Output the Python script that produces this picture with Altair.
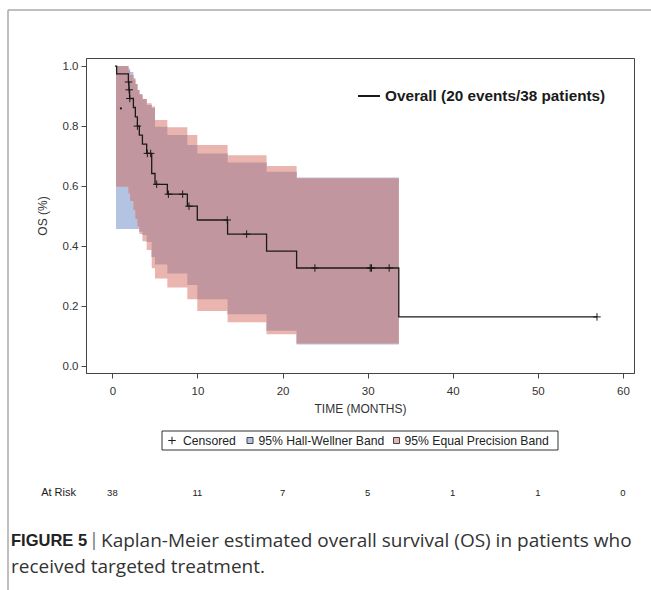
import altair as alt
import pandas as pd

# ---- Kaplan-Meier step curve (time in months, survival) ----
km_t = [0.3, 0.5, 1.88, 1.95, 2.02, 2.47, 2.70, 2.94, 3.17, 3.53, 4.03, 4.62, 5.01,
        6.46, 8.81, 9.98, 13.54, 18.12, 21.65, 33.66, 56.95]
km_s = [1.0, 0.974, 0.947, 0.921, 0.892, 0.862, 0.831, 0.80, 0.77, 0.74, 0.709, 0.642, 0.606,
        0.573, 0.533, 0.487, 0.44, 0.383, 0.327, 0.164, 0.164]

# ---- censored observations ----
cens_t = [1.90, 1.97, 2.05, 2.94, 4.11, 4.50, 5.21, 6.58, 8.26, 9.00, 13.50, 15.78,
          23.80, 30.30, 30.45, 32.53, 56.95]
cens_s = [0.947, 0.921, 0.892, 0.80, 0.709, 0.709, 0.606, 0.573, 0.573, 0.533, 0.487, 0.44,
          0.327, 0.327, 0.327, 0.327, 0.164]

# ---- confidence bands ----
band_t = [0.43, 1.88, 2.08, 2.47, 2.70, 2.94, 3.17, 3.53, 4.03, 4.62, 5.01, 6.46, 8.81,
          9.98, 13.54, 18.12, 21.65, 33.66]
hw_lo = [0.457, 0.457, 0.457, 0.457, 0.457, 0.457, 0.448, 0.437, 0.414, 0.364, 0.339, 0.309,
         0.27, 0.223, 0.173, 0.118, 0.072, 0.072]
hw_hi = [1.0, 0.992, 0.98, 0.96, 0.94, 0.92, 0.905, 0.89, 0.87, 0.86, 0.798, 0.77, 0.737,
         0.709, 0.679, 0.648, 0.629, 0.629]
ep_lo = [0.598, 0.575, 0.55, 0.52, 0.49, 0.465, 0.44, 0.416, 0.387, 0.326, 0.292, 0.262,
         0.223, 0.184, 0.146, 0.106, 0.0756, 0.0756]
ep_hi = [1.0, 0.985, 0.97, 0.955, 0.94, 0.92, 0.905, 0.89, 0.876, 0.865, 0.82, 0.796, 0.77,
         0.737, 0.703, 0.667, 0.626, 0.626]

stray_t = [1.0]
stray_s = [0.859]

# ---- number at risk ----
risk_t = [0, 10, 20, 30, 40, 50, 60]
risk_n = ["38", "11", "7", "5", "1", "1", "0"]

x_ticks = [0, 10, 20, 30, 40, 50, 60]
y_ticks = [0.0, 0.2, 0.4, 0.6, 0.8, 1.0]

W, H = 548, 315
L, T = 86, 58
FONT = "Liberation Sans"
CAP_FONT = "Open Sans"
BLUE = "#B3C3E2"
RED = "#E9B5AE"
OVER = "#C2969F"
INK = "#1a1a1a"

xscale = alt.Scale(domain=[-3.1, 61.3], nice=False, zero=False)
yscale = alt.Scale(domain=[-0.023, 1.027], nice=False, zero=False)
xaxis = alt.Axis(values=x_ticks, title="TIME (MONTHS)", grid=False, tickSize=5,
                 labelPadding=7, labelFontSize=11.5, titleFontSize=12, titleFontWeight="normal",
                 titlePadding=7, labelFont=FONT, titleFont=FONT, domainColor="#444",
                 tickColor="#444", labelColor="#333", titleColor="#333")
yaxis = alt.Axis(values=y_ticks, format=".1f", title="OS (%)", grid=False, tickSize=5,
                 labelPadding=3, labelFontSize=11.5, titleFontSize=12, titleFontWeight="normal",
                 titlePadding=13, labelFont=FONT, titleFont=FONT, domainColor="#444",
                 tickColor="#444", labelColor="#333", titleColor="#333")

X = alt.X("t:Q", scale=xscale, axis=xaxis)

band_df = pd.DataFrame({"t": band_t, "hw_lo": hw_lo, "hw_hi": hw_hi, "ep_lo": ep_lo, "ep_hi": ep_hi})
band_df["ov_lo"] = band_df[["hw_lo", "ep_lo"]].max(axis=1)
band_df["ov_hi"] = band_df[["hw_hi", "ep_hi"]].min(axis=1)


def band(lo, hi, color):
    return alt.Chart(band_df).mark_area(interpolate="step-after", color=color, opacity=1).encode(
        x=X, y=alt.Y(f"{lo}:Q", scale=yscale, axis=yaxis), y2=f"{hi}:Q")


km_df = pd.DataFrame({"t": km_t, "s": km_s})
cens_df = pd.DataFrame({"t": cens_t, "s": cens_s})
stray_df = pd.DataFrame({"t": stray_t, "s": stray_s})
risk_df = pd.DataFrame({"t": risk_t, "n": risk_n})

PLUS = "M-1,0L1,0M0,-1L0,1"

km_line = alt.Chart(km_df).mark_line(interpolate="step-after", color=INK, strokeWidth=1.3).encode(
    x=X, y=alt.Y("s:Q", scale=yscale, axis=yaxis))
cens = alt.Chart(cens_df).mark_point(shape=PLUS, size=56, filled=False, color=INK, strokeWidth=1,
                                     opacity=1).encode(
    x=X, y=alt.Y("s:Q", scale=yscale, axis=yaxis))
stray = alt.Chart(stray_df).mark_point(shape="circle", size=5, filled=True, color=INK, opacity=1).encode(
    x=X, y=alt.Y("s:Q", scale=yscale, axis=yaxis))
risk = alt.Chart(risk_df).mark_text(fontSize=9.5, font=FONT, color=INK, baseline="middle").encode(
    x=X, y=alt.value(493 - T), text="n:N")

one = pd.DataFrame({"k": [0]})


def text(txt, x, y, size=12, weight="normal", align="left", color="#222", font=FONT):
    return alt.Chart(pd.DataFrame({"txt": [txt]})).mark_text(
        align=align, baseline="middle", fontSize=size, fontWeight=weight, font=font, color=color
    ).encode(x=alt.value(x - L), y=alt.value(y - T), text="txt:N")


def rule(x1, y1, x2, y2, color, width):
    return alt.Chart(one).mark_rule(color=color, strokeWidth=width).encode(
        x=alt.value(x1 - L), x2=alt.value(x2 - L), y=alt.value(y1 - T), y2=alt.value(y2 - T))


def box(x1, y1, x2, y2, fill, stroke, width=1):
    return alt.Chart(one).mark_rect(fill=fill, stroke=stroke, strokeWidth=width).encode(
        x=alt.value(x1 - L), x2=alt.value(x2 - L), y=alt.value(y1 - T), y2=alt.value(y2 - T))


def plus(x, y):
    return alt.Chart(one).mark_point(shape=PLUS, size=56, filled=False, color=INK, strokeWidth=1,
                                     opacity=1).encode(x=alt.value(x - L), y=alt.value(y - T))


layers = [
    band("hw_lo", "hw_hi", BLUE),
    band("ep_lo", "ep_hi", RED),
    band("ov_lo", "ov_hi", OVER),
    km_line, cens, stray,
    # inset legend
    rule(358, 96, 380, 96, INK, 2),
    text("Overall (20 events/38 patients)", 385, 96, size=15.3, weight="bold", color=INK),
    # bottom legend
    box(162, 431, 558, 450, "white", "#333"),
    plus(172, 440.5),
    text("Censored", 183, 440.5, size=12.2),
    box(247, 437.5, 253, 443.5, BLUE, "#444"),
    text("95% Hall-Wellner Band", 258.5, 440.5, size=12.2),
    box(393.5, 437.5, 399.5, 443.5, RED, "#444"),
    text("95% Equal Precision Band", 404.5, 440.5, size=12.2),
    # at risk
    text("At Risk", 76, 493, size=11, align="right", color=INK),
    risk,
    # figure frame and caption
    rule(8, 10, 8, 590, "#aaaaaa", 1.5),
    rule(8, 10, 651, 10, "#aaaaaa", 1.5),
    text("FIGURE 5", 11, 541, size=16.5, weight="bold", color="#222"),
    text("|", 89, 541, size=18, color="#666", font=CAP_FONT),
    text("Kaplan-Meier estimated overall survival (OS) in patients who", 101, 541, size=19,
         color="#333", font=CAP_FONT),
    text("received targeted treatment.", 11, 567, size=19, color="#333", font=CAP_FONT),
]

chart = alt.layer(*layers).properties(
    width=W, height=H,
    padding={"left": L, "top": T, "right": 651 - L - W, "bottom": 590 - T - H},
    autosize=alt.AutoSizeParams(type="none"),
    background="white",
).configure_view(stroke="#444", strokeWidth=1)

chart.save("out.html", embed_options={"renderer": "svg", "actions": False})
